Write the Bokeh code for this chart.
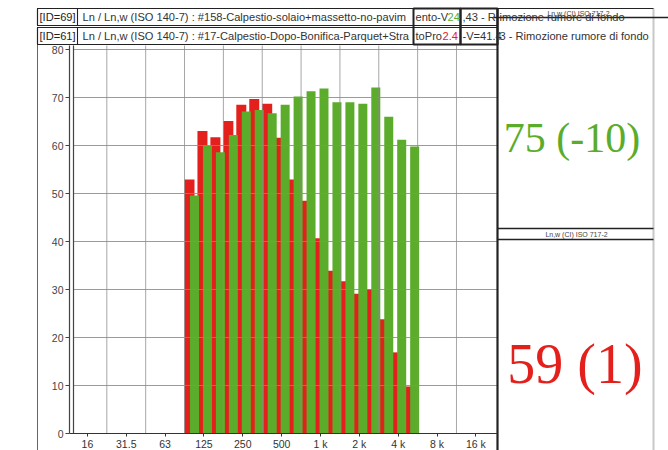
import math
from bokeh.plotting import figure
from bokeh.models import Range1d, LinearAxis, FixedTicker, ColumnDataSource
from bokeh.core.properties import value
from bokeh.embed import file_html
from bokeh.resources import INLINE

# ---------------- data ----------------
band_freqs = [100, 125, 160, 200, 250, 315, 400, 500, 630, 800,
              1000, 1250, 1600, 2000, 2500, 3150, 4000, 5000]
# green series: ID=69 (#158 solaio + massetto, no pavimento)
ln_green = [49.6, 60.0, 58.6, 62.2, 67.1, 67.4, 66.7, 68.5, 70.2, 71.3,
            71.9, 69.0, 69.0, 68.7, 72.1, 66.0, 61.2, 59.8]
# red series: ID=61 (#17 dopo bonifica, parquet + strato)
ln_red = [52.9, 63.0, 61.7, 65.1, 68.5, 69.7, 68.7, 61.6, 52.9, 48.5,
          40.7, 33.9, 31.7, 29.1, 30.1, 23.8, 16.9, 9.8]
octave_freqs = [16, 31.5, 63, 125, 250, 500, 1000, 2000, 4000, 8000, 16000]
octave_labels = ["16", "31.5", "63", "125", "250", "500", "1 k", "2 k", "4 k", "8 k", "16 k"]
db_ticks = [0, 10, 20, 30, 40, 50, 60, 70, 80]
rating_green = "75 (-10)"
rating_red = "59 (1)"
rating_title = "Ln,w (CI) ISO 717-2"
row1_parts = ["[ID=69]", "Ln / Ln,w (ISO 140-7) : #158-Calpestio-solaio+massetto-no-pavim",
              "ento-V", "24", ",43 - R", "imozione rumore di fondo"]
row2_parts = ["[ID=61]", "Ln / Ln,w (ISO 140-7) : #17-Calpestio-Dopo-Bonifica-Parquet+Stra",
              "toPro", "2.4", "-V=41.4", "3 - Rimozione rumore di fondo"]

# ---------------- geometry / style ----------------
W, H = 668, 450
CX0, CY0 = 0, 0
CX1, CY1 = CX0 + W, CY0 + H
PX_1K, PX_THIRD = 320.0, 12.95
PY_ZERO, PY_DB = 433.0, 4.8
AXIS_L, PLOT_L, PLOT_R, PLOT_T = 69, 73, 497, 45

RED = "#e4201c"
GREEN = "#5cac2c"
GRID = "#8a8a8a"
DARK = "#222222"
RED_OFF, RED_W = -1.5 / PX_THIRD, 10 / PX_THIRD
GREEN_OFF, GREEN_W = 3.5 / PX_THIRD, 9 / PX_THIRD
SANS_NAME = "Liberation Sans"
SANS = value(SANS_NAME)
SERIF = value("Liberation Serif")


def idx_of_px(px):
    return (px - PX_1K) / PX_THIRD


def db_of_py(py):
    return (PY_ZERO - py) / PY_DB


def third_index(f):
    return round(3 * math.log2(f / 1000.0))


p = figure(width=W, height=H,
           x_range=Range1d(idx_of_px(CX0), idx_of_px(CX1)),
           y_range=Range1d(db_of_py(CY1), db_of_py(CY0)),
           x_axis_location=None, y_axis_location=None,
           output_backend="svg", toolbar_location=None, min_border=0,
           outline_line_color=None, background_fill_color="white",
           border_fill_color="white")
p.grid.visible = False
p.extra_x_ranges = {"px": Range1d(CX0, CX1)}
p.extra_y_ranges = {"py": Range1d(CY1, CY0)}
PXR = dict(x_range_name="px", y_range_name="py")

# ---------------- bars ----------------
idx = [third_index(f) for f in band_freqs]
src = ColumnDataSource(dict(
    x_red=[i + RED_OFF for i in idx],
    x_green=[i + GREEN_OFF for i in idx],
    red=ln_red, green=ln_green))
p.vbar(x="x_red", top="red", bottom=0, width=RED_W, source=src,
       fill_color=RED, line_color=None)
p.vbar(x="x_green", top="green", bottom=0, width=GREEN_W, source=src,
       fill_color=GREEN, line_color=None)

# ---------------- grid (over bars) ----------------
oct_idx = [third_index(f) for f in octave_freqs]
vx = [(a + b) / 2 for a, b in zip(oct_idx[:-1], oct_idx[1:])]
p.segment(x0=vx, x1=vx, y0=[0] * len(vx), y1=[db_of_py(PLOT_T)] * len(vx),
          line_color=GRID, line_width=1, line_alpha=0.75)
hy = db_ticks[1:]
p.segment(x0=[idx_of_px(PLOT_L)] * len(hy), x1=[idx_of_px(PLOT_R)] * len(hy),
          y0=hy, y1=hy, line_color=GRID, line_width=1, line_alpha=0.85)

# ---------------- axes ----------------
xaxis = LinearAxis(fixed_location=0, ticker=FixedTicker(ticks=oct_idx),
                   major_label_overrides={i: l for i, l in zip(oct_idx, octave_labels)},
                   bounds=(idx_of_px(AXIS_L), idx_of_px(PLOT_R)),
                   axis_line_color="#333333", axis_line_width=1.2,
                   major_tick_in=0, major_tick_out=3, major_tick_line_color="#333333",
                   minor_tick_line_color=None, major_label_standoff=1,
                   major_label_text_font=SANS_NAME, major_label_text_font_size="10.5px",
                   major_label_text_color="#333333")
p.add_layout(xaxis, "below")
yaxis = LinearAxis(fixed_location=idx_of_px(AXIS_L), ticker=FixedTicker(ticks=db_ticks),
                   bounds=(0, db_of_py(PLOT_T)),
                   axis_line_color="#444444", axis_line_width=1.2,
                   major_tick_in=0, major_tick_out=4, major_tick_line_color="#444444",
                   minor_tick_line_color=None, major_label_standoff=2,
                   major_label_text_font=SANS_NAME, major_label_text_font_size="10.5px",
                   major_label_text_color="#444444")
p.add_layout(yaxis, "left")

# ---------------- frame decoration (page pixel coordinates) ----------------
p.segment(x0=[PLOT_L], x1=[PLOT_L], y0=[PLOT_T], y1=[PY_ZERO], line_color="#444444",
          line_width=1.2, **PXR)
p.segment(x0=[37], x1=[37], y0=[44], y1=[CY1], line_color="#666666", line_width=1, **PXR)
p.segment(x0=[PLOT_R], x1=[PLOT_R], y0=[8], y1=[CY1], line_color=DARK, line_width=2.2, **PXR)
p.segment(x0=[653], x1=[653], y0=[8], y1=[CY1], line_color="#c8c8c8", line_width=2, **PXR)
# right panel header lines
p.segment(x0=[497, 493, 497, 497], x1=[653, 668, 653, 653],
          y0=[8, 17, 228, 239], y1=[8, 17, 228, 239],
          line_color=DARK, line_width=[1.2, 1.6, 1.6, 1.6], **PXR)

# header boxes
p.quad(left=[37, 37, 37, 37], right=[497, 497, 77, 77], top=[8, 27, 8, 27],
       bottom=[25, 44, 25, 44], fill_color=None, line_color=DARK, line_width=1.1, **PXR)
p.quad(left=[413, 460], right=[460, 497], top=[8, 8], bottom=[44, 44],
       fill_color=None, line_color=DARK, line_width=2, **PXR)

# header texts
for yy, parts, hl, xs in ((16.5, row1_parts, GREEN, [39, 82, 415, 447, 462, 499]),
                          (35.5, row2_parts, RED, [39, 82, 415, 442, 462, 499])):
    colors = ["#222222", "#333333", "#333333", hl, "#333333", "#333333"]
    p.text(x=xs, y=[yy] * len(xs), text=parts, text_color=colors,
           text_font=SANS, text_font_size="11.1px", text_baseline="middle",
           text_align="left", **PXR)

# tiny titles in the rating panel
p.text(x=[578, 576], y=[12.5, 233.5], text=[rating_title, rating_title],
       text_font=SANS, text_font_size="7px", text_color="#444444",
       text_baseline="middle", text_align="center", **PXR)

# ratings
p.text(x=[571.5], y=[137], text=[rating_green], text_color=GREEN,
       text_font=SERIF, text_font_size="42px", text_baseline="alphabetic",
       text_align="center", **PXR)
p.text(x=[574.5], y=[363], text=[rating_red], text_color=RED,
       text_font=SERIF, text_font_size="56px", text_baseline="alphabetic",
       text_align="center", **PXR)

open("out.html", "w").write(file_html(p, INLINE))
